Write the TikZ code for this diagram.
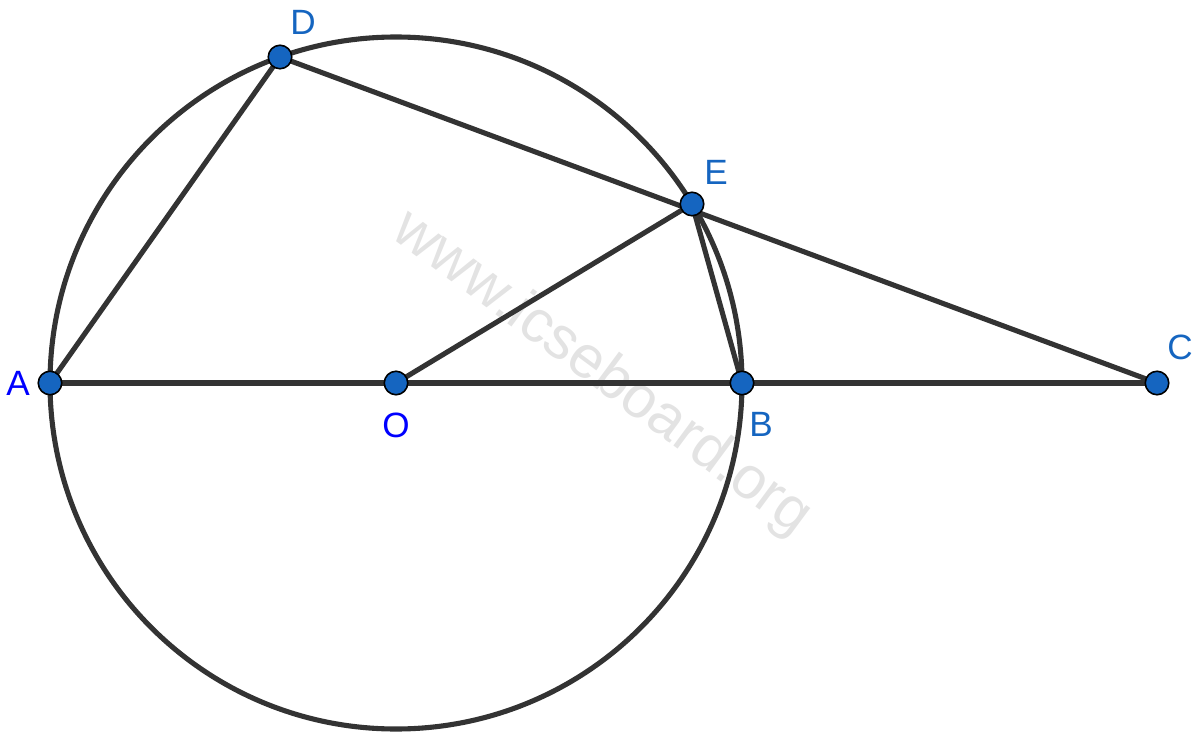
\documentclass[tikz,border=0pt]{standalone}
\usepackage{fontspec}
\setmainfont{Liberation Sans}
\definecolor{ptblue}{HTML}{1565C0}
\definecolor{lblblue}{HTML}{0000FF}
\definecolor{linegray}{HTML}{333333}
\definecolor{wm}{HTML}{E3E3E3}
\begin{document}
\begin{tikzpicture}[x=0.02cm,y=-0.02cm,
  seg/.style={draw=linegray,line width=2.9pt},
  pt/.style={circle,fill=ptblue,draw=black,line width=0.9pt,minimum size=0.47cm,inner sep=0pt},
  lbl/.style={text=ptblue,font=\fontsize{20}{24}\selectfont},
  lblb/.style={text=lblblue,font=\fontsize{20}{24}\selectfont}]
\useasboundingbox (0,0) rectangle (1200,743);
\node[rotate=-36.5,text=wm,font=\fontsize{34}{40}\selectfont] (wmk) at (602,374) {www.icseboard.org};
\coordinate (Oc) at (396,383);
\coordinate (Ac) at (50,383);
\coordinate (Bc) at (742,383);
\coordinate (Cc) at (1157,383);
\coordinate (Dc) at (280,57);
\coordinate (Ec) at (692,204);
\draw[seg] (Oc) circle (346);
\draw[seg] (Ac) -- (Cc);
\draw[seg] (Ac) -- (Dc);
\draw[seg] (Dc) -- (Cc);
\draw[seg] (Oc) -- (Ec);
\draw[seg] (Ec) -- (Bc);
\node[pt] (A) at (Ac) {};
\node[pt] (O) at (Oc) {};
\node[pt] (B) at (Bc) {};
\node[pt] (C) at (Cc) {};
\node[pt] (D) at (Dc) {};
\node[pt] (E) at (Ec) {};
\node[lblb] (lA) at (18,383) {A};
\node[lblb] (lO) at (396,425) {O};
\node[lbl] (lB) at (761,424) {B};
\node[lbl] (lC) at (1180,347) {C};
\node[lbl] (lD) at (303,22) {D};
\node[lbl] (lE) at (716,172) {E};
\end{tikzpicture}
\end{document}
